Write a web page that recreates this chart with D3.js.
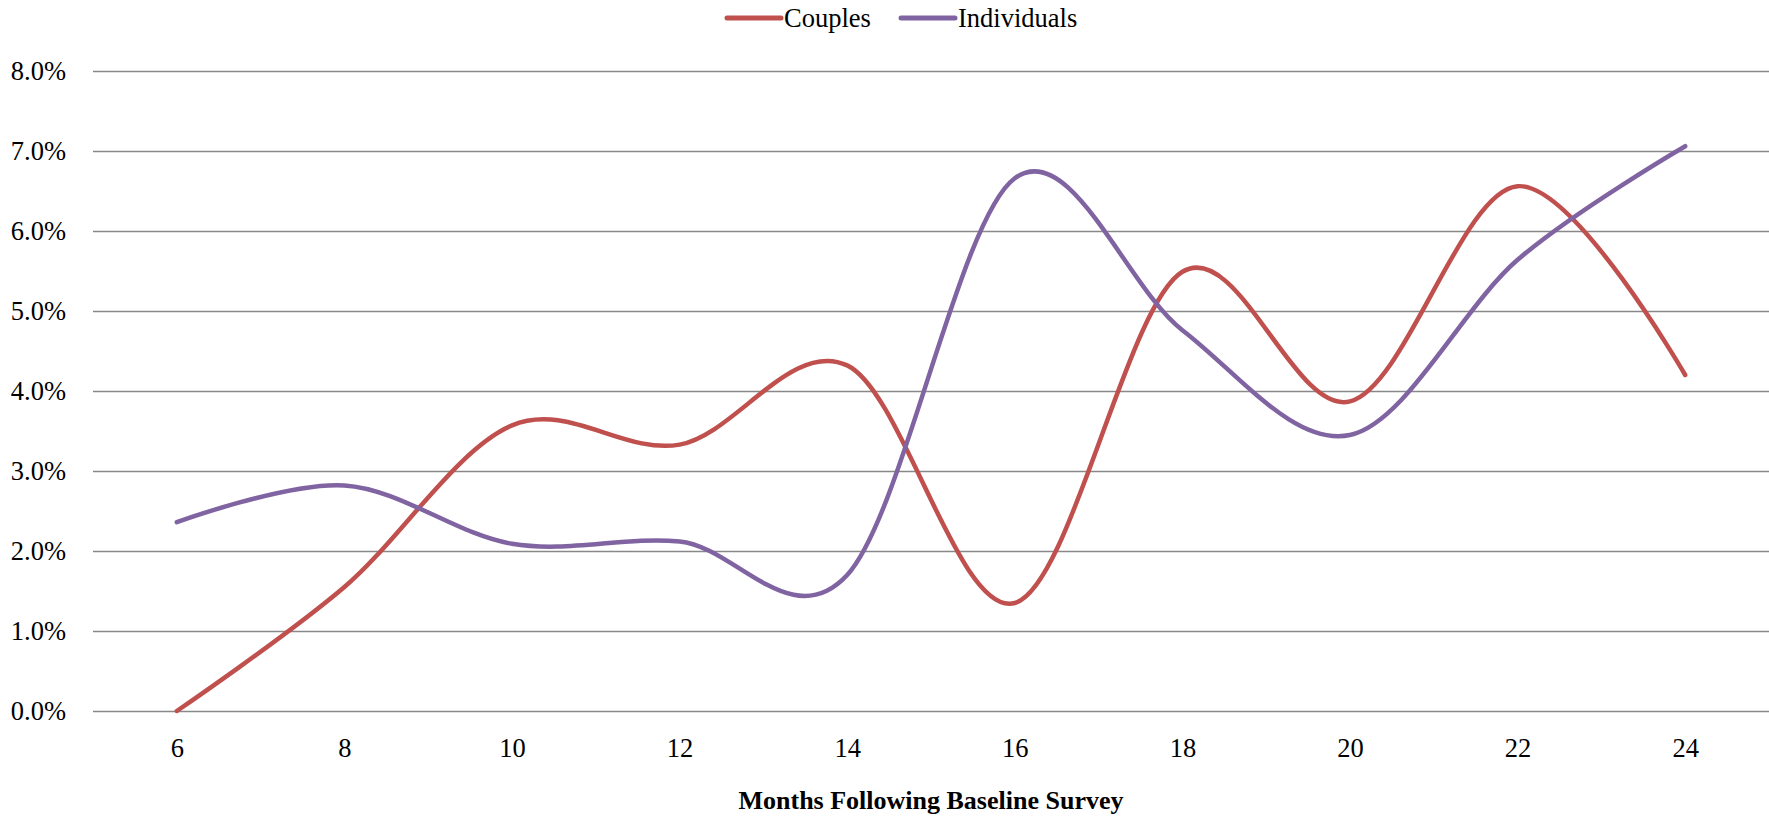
<!DOCTYPE html>
<html lang="en">
<head>
<meta charset="utf-8">
<title>Months Following Baseline Survey</title>
<script src="https://d3js.org/d3.v7.min.js"></script>
<style>
  body { margin: 0; background: #fff; }
  svg text { font-family: "Liberation Serif", "Times New Roman", serif; fill: #000; }
</style>
</head>
<body>
<script>
// data (percent)
const months = [6, 8, 10, 12, 14, 16, 18, 20, 22, 24];
const couples = [0.0, 1.55, 3.57, 3.33, 4.32, 1.35, 5.49, 3.87, 6.56, 4.20];
const individuals = [2.36, 2.82, 2.09, 2.12, 1.70, 6.66, 4.76, 3.45, 5.64, 7.06];
const yTicks = [0, 1, 2, 3, 4, 5, 6, 7, 8];
const seriesNames = ["Couples", "Individuals"];
const seriesColors = ["#c0504d", "#8064a2"];

const W = 1769, H = 817;
const margin = {top: 71, right: 0, bottom: 106, left: 93};

const svg = d3.select("body").append("svg")
    .attr("width", W)
    .attr("height", H);

const x = d3.scalePoint()
    .domain(months)
    .range([margin.left, W - margin.right])
    .padding(0.5);

const y = d3.scaleLinear()
    .domain([0, 8])
    .range([H - margin.bottom, margin.top]);

// gridlines + y labels
const yAxis = d3.axisLeft(y)
    .tickValues(yTicks)
    .tickSize(-(W - margin.left - margin.right))
    .tickPadding(27)
    .tickFormat(d => d.toFixed(1) + "%");

const gy = svg.append("g")
    .attr("transform", "translate(" + margin.left + ",0)")
    .call(yAxis);
gy.select(".domain").remove();
gy.selectAll(".tick line").attr("stroke", "#888888").attr("stroke-width", 1.6);
gy.selectAll(".tick text").style("font-size", "26.5px").attr("dy", "0.33em");

// x labels
const xAxis = d3.axisBottom(x).tickSize(0).tickPadding(27);
const gx = svg.append("g")
    .attr("transform", "translate(0," + (H - margin.bottom) + ")")
    .call(xAxis);
gx.select(".domain").remove();
gx.selectAll(".tick text").style("font-size", "26.5px");

// x title
svg.append("text")
    .attr("x", (margin.left + W - margin.right) / 2)
    .attr("y", 809)
    .attr("text-anchor", "middle")
    .style("font-size", "26px")
    .style("font-weight", "bold")
    .text("Months Following Baseline Survey");

// lines
const line = d3.line()
    .x((d, i) => x(months[i]))
    .y(d => y(d))
    .curve(d3.curveCardinal.tension(0));

[couples, individuals].forEach(function(vals, k) {
    svg.append("path")
        .datum(vals)
        .attr("fill", "none")
        .attr("stroke", seriesColors[k])
        .attr("stroke-width", 4.5)
        .attr("stroke-linecap", "round")
        .attr("stroke-linejoin", "round")
        .attr("d", line);
});

// legend
const legendX = [727, 901];
const leg = svg.append("g");
seriesNames.forEach(function(name, k) {
    leg.append("line")
        .attr("x1", legendX[k]).attr("x2", legendX[k] + 54)
        .attr("y1", 18).attr("y2", 18)
        .attr("stroke", seriesColors[k])
        .attr("stroke-width", 5)
        .attr("stroke-linecap", "round");
    leg.append("text")
        .attr("x", legendX[k] + 57)
        .attr("y", 18)
        .attr("dy", "0.33em")
        .style("font-size", "26.5px")
        .text(name);
});
</script>
</body>
</html>
